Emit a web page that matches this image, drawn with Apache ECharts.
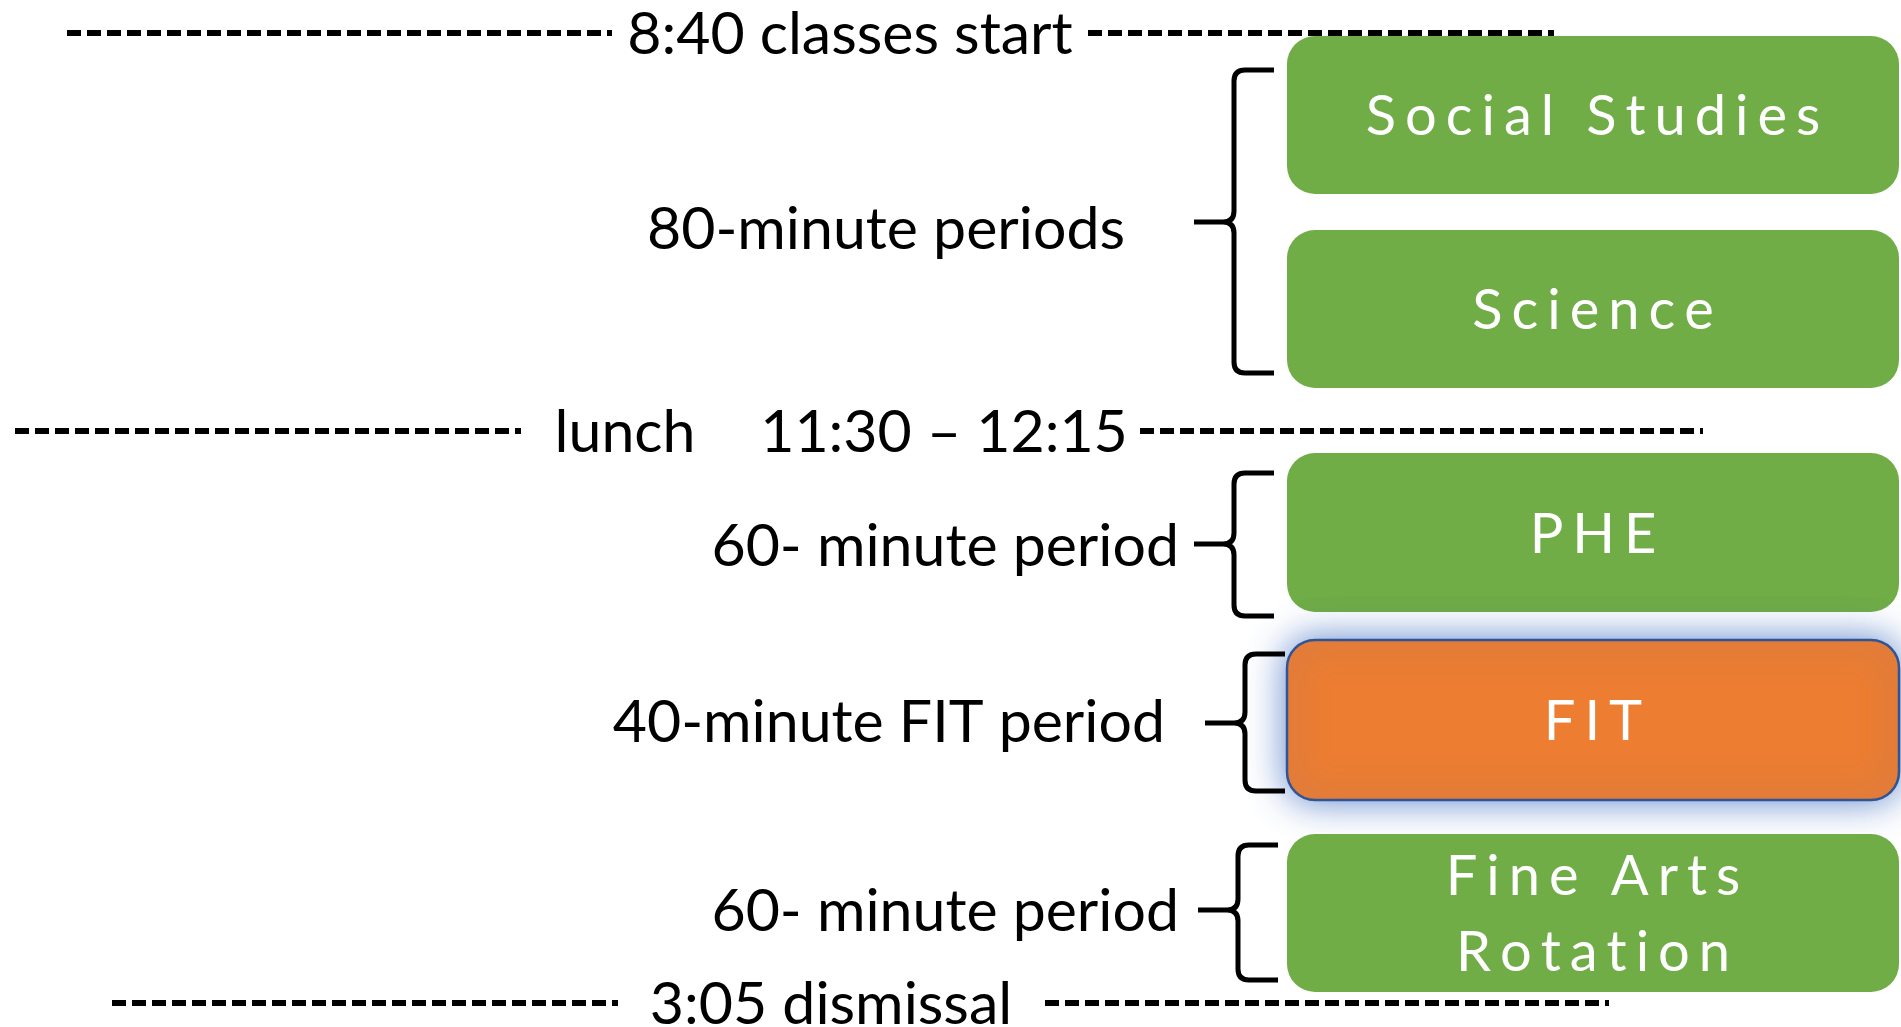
<!DOCTYPE html>
<html>
<head>
<meta charset="utf-8">
<script src="https://cdn.jsdelivr.net/npm/echarts@6/dist/echarts.min.js"></script>
<style>
html,body{margin:0;padding:0;background:#fff;}
#chart{width:1901px;height:1027px;}
</style>
</head>
<body>
<div id="chart"></div>
<script>
// ---- Data (diagram layout units: x 0..1901, y 0..1027 from top) ----
const periodNames  = ['Social Studies', 'Science', 'PHE', 'FIT', 'Fine Arts\nRotation'];
const periodKind   = ['core', 'core', 'core', 'fit', 'core'];
const periodTop    = [36, 230, 453, 640, 834];
const periodBottom = [194, 388, 612, 800, 992];
const periodLeft   = 1287;
const periodRight  = 1899;

const braceLabels  = ['80-minute periods', '60- minute period', '40-minute FIT period', '60- minute period'];
const braceTop     = [70, 473, 654, 845];
const braceBottom  = [373, 616, 791, 980];
const braceTip     = [222, 544, 723, 910];
const braceTipX    = [1194, 1194, 1205, 1198];
const braceLabelRight = [1125, 1179, 1165, 1179];
const braceLabelY  = [228, 545, 721, 910];

const markerParts  = [['8:40 classes start'], ['lunch', '11:30 \u2013 12:15'], ['3:05 dismissal']];
const markerPartX  = [[850], [625, 944], [831]];
const markerY      = [33, 431, 1003];
const markerLeftDash  = [[67, 612], [15, 521], [112, 618]];
const markerRightDash = [[1088, 1554], [1140, 1703], [1045, 1609]];

const FONT = 'Lato, "Open Sans", sans-serif';

function spaced(str) {
  return str.split('\n').map(function (line) {
    return Array.from(line).join('{s| }');
  }).join('\n');
}

const chart = echarts.init(document.getElementById('chart'), null, {renderer: 'canvas'});

const option = {
  animation: false,
  backgroundColor: '#ffffff',
  grid: {left: 0, right: 0, top: 0, bottom: 0},
  xAxis: {type: 'value', min: 0, max: 1901, show: false},
  yAxis: {type: 'value', min: 0, max: 1027, inverse: true, show: false},
  series: [
    {
      type: 'custom',
      name: 'periods',
      z: 2,
      data: periodNames.map(function (n, i) { return [periodTop[i], periodBottom[i]]; }),
      renderItem: function (params, api) {
        const i = params.dataIndex;
        const p0 = api.coord([periodLeft, api.value(0)]);
        const p1 = api.coord([periodRight, api.value(1)]);
        const fit = periodKind[i] === 'fit';
        return {
          type: 'group',
          children: [
            {
              type: 'rect',
              shape: {x: p0[0], y: p0[1], width: p1[0] - p0[0], height: p1[1] - p0[1], r: 28},
              style: fit ? {
                fill: '#ED7D31', stroke: '#2F5597', lineWidth: 2.5,
                shadowBlur: 36, shadowColor: 'rgba(68,114,196,0.85)'
              } : {fill: '#70AD47'}
            },
            {
              type: 'text',
              x: (p0[0] + p1[0]) / 2,
              y: (p0[1] + p1[1]) / 2 + 2,
              style: {
                text: spaced(periodNames[i]),
                fill: '#ffffff',
                fontSize: 56,
                fontFamily: FONT,
                align: 'center',
                verticalAlign: 'middle',
                lineHeight: 76,
                rich: {s: {fontSize: 35, fontFamily: FONT, fill: '#ffffff', lineHeight: 76}}
              }
            }
          ]
        };
      }
    },
    {
      type: 'custom',
      name: 'braces',
      z: 3,
      data: braceLabels.map(function (n, i) {
        return [braceTop[i], braceBottom[i], braceTip[i], braceTipX[i], braceLabelRight[i], braceLabelY[i]];
      }),
      renderItem: function (params, api) {
        const i = params.dataIndex;
        const tipX = api.value(3);
        const top = api.coord([tipX + 80, api.value(0)]);
        const bot = api.coord([tipX + 80, api.value(1)]);
        const tip = api.coord([tipX, api.value(2)]);
        const v = api.coord([tipX + 40, api.value(2)])[0];
        const lab = api.coord([api.value(4), api.value(5)]);
        const r = 11;
        const xe = top[0];
        const d =
          'M' + xe + ' ' + top[1] +
          ' L' + (v + r) + ' ' + top[1] +
          ' Q' + v + ' ' + top[1] + ' ' + v + ' ' + (top[1] + r) +
          ' L' + v + ' ' + (tip[1] - r) +
          ' Q' + v + ' ' + tip[1] + ' ' + (v - r) + ' ' + tip[1] +
          ' L' + tip[0] + ' ' + tip[1] +
          ' M' + tip[0] + ' ' + tip[1] +
          ' L' + (v - r) + ' ' + tip[1] +
          ' Q' + v + ' ' + tip[1] + ' ' + v + ' ' + (tip[1] + r) +
          ' L' + v + ' ' + (bot[1] - r) +
          ' Q' + v + ' ' + bot[1] + ' ' + (v + r) + ' ' + bot[1] +
          ' L' + xe + ' ' + bot[1];
        return {
          type: 'group',
          children: [
            {
              type: 'path',
              shape: {pathData: d},
              style: {fill: null, stroke: '#000000', lineWidth: 5, lineJoin: 'round'}
            },
            {
              type: 'text',
              x: lab[0],
              y: lab[1] + 2,
              style: {
                text: braceLabels[i],
                fill: '#000000',
                fontSize: 59,
                fontFamily: FONT,
                align: 'right',
                verticalAlign: 'middle'
              }
            }
          ]
        };
      }
    },
    {
      type: 'custom',
      name: 'markers',
      z: 4,
      data: markerParts.map(function (n, i) {
        return [markerY[i], markerLeftDash[i][0], markerLeftDash[i][1], markerRightDash[i][0], markerRightDash[i][1]];
      }),
      renderItem: function (params, api) {
        const i = params.dataIndex;
        const y = api.value(0);
        const l0 = api.coord([api.value(1), y]);
        const l1 = api.coord([api.value(2), y]);
        const r0 = api.coord([api.value(3), y]);
        const r1 = api.coord([api.value(4), y]);
        const dashStyle = {stroke: '#000000', lineWidth: 6, lineDash: [14, 6]};
        const children = [
          {type: 'line', shape: {x1: l0[0], y1: l0[1], x2: l1[0], y2: l1[1]}, style: dashStyle},
          {type: 'line', shape: {x1: r0[0], y1: r0[1], x2: r1[0], y2: r1[1]}, style: dashStyle}
        ];
        markerParts[i].forEach(function (txt, k) {
          const t = api.coord([markerPartX[i][k], y]);
          children.push({
            type: 'text',
            x: t[0],
            y: t[1] + 2,
            style: {
              text: txt,
              fill: '#000000',
              fontSize: 59,
              fontFamily: FONT,
              align: 'center',
              verticalAlign: 'middle'
            }
          });
        });
        return {type: 'group', children: children};
      }
    }
  ]
};

chart.setOption(option);
</script>
</body>
</html>
